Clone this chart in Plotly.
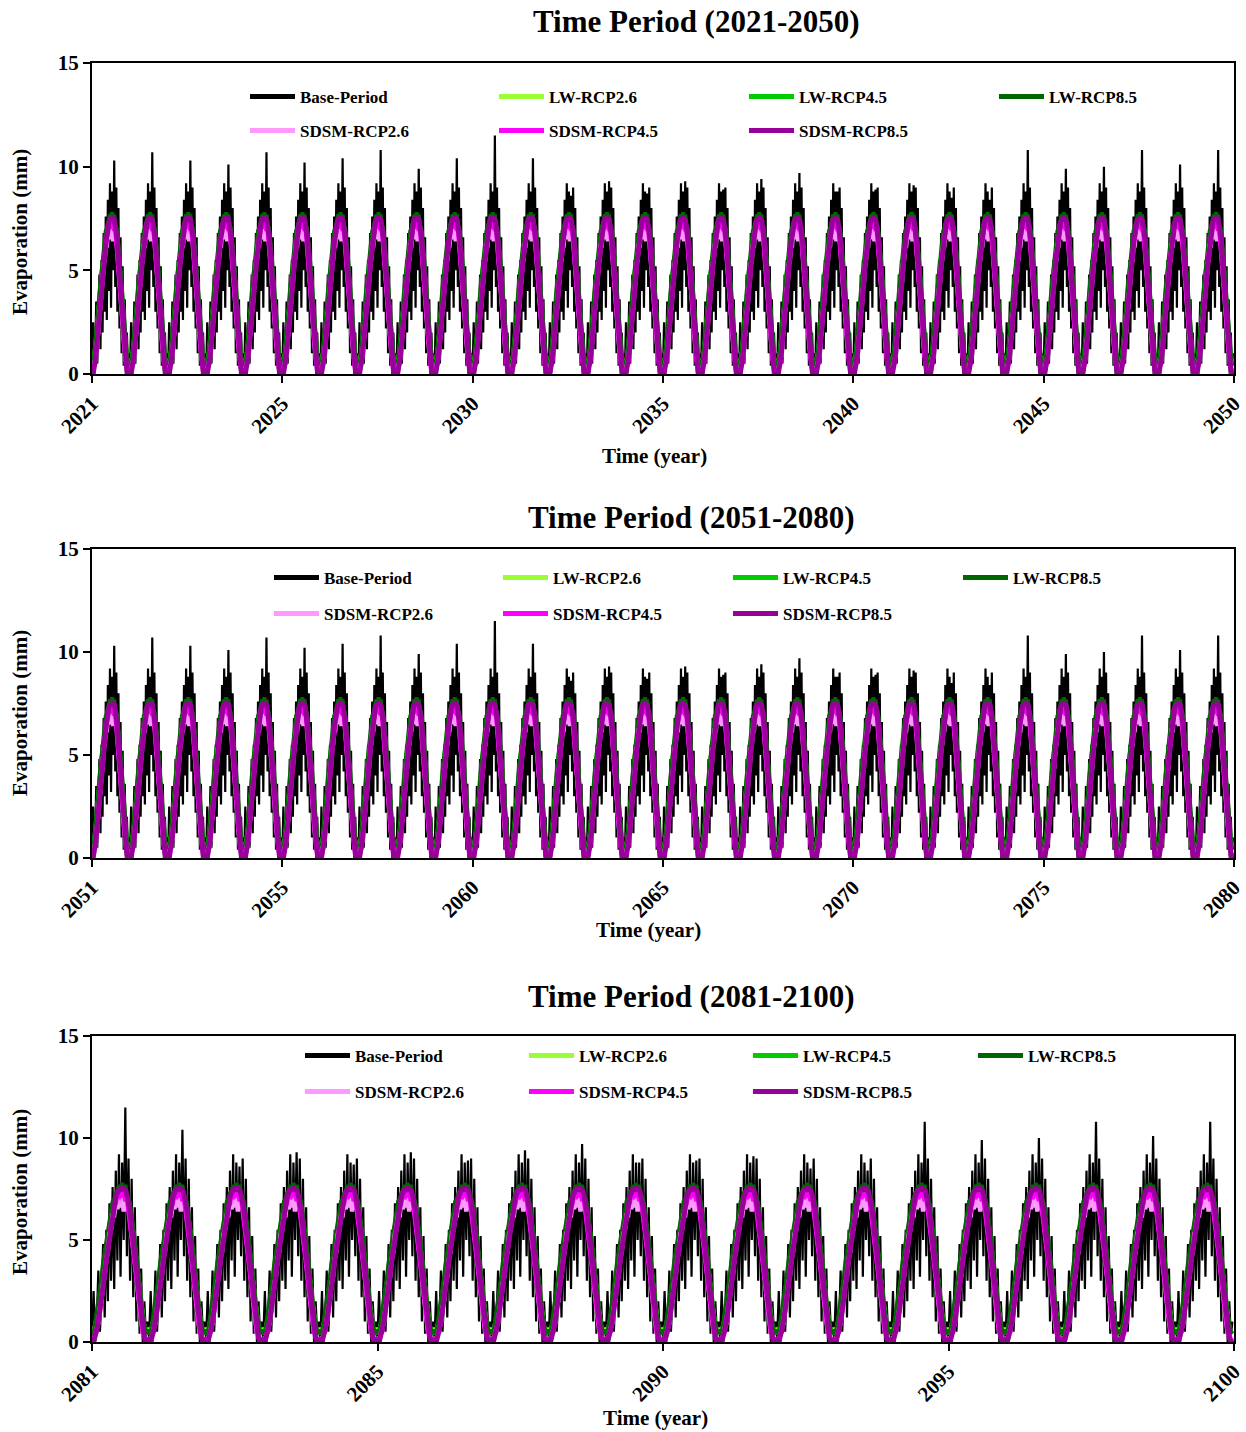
import numpy as np
import plotly.graph_objects as go

# ---------------- data ----------------
PANEL_TITLES = ["Time Period (2021-2050)", "Time Period (2051-2080)", "Time Period (2081-2100)"]
PANEL_YEARS = [30, 30, 20]
BASE_OFFSET = [0, 0, 10]          # panel 3 shows the last 20 years of the base record
X_TICKTEXT = [
    ["2021", "2025", "2030", "2035", "2040", "2045", "2050"],
    ["2051", "2055", "2060", "2065", "2070", "2075", "2080"],
    ["2081", "2085", "2090", "2095", "2100"],
]
Y_TICKS = [0, 5, 10, 15]

SERIES = ["Base-Period", "LW-RCP2.6", "LW-RCP4.5", "LW-RCP8.5",
          "SDSM-RCP2.6", "SDSM-RCP4.5", "SDSM-RCP8.5"]
COLORS = ["#000000", "#99ff33", "#00cc00", "#006600",
          "#ff99ff", "#ff00ff", "#990099"]

STEPS = 36  # samples per year (~10-day)

# typical jagged base-period year (mm); index 21 holds the yearly peak
BASE_TYPICAL = [0.2, 2.5, 0.0, 1.0, 3.5, 0.5, 2.2, 4.8, 1.2, 5.5, 2.0, 6.8,
                3.0, 7.6, 2.6, 8.4, 4.0, 9.2, 3.2, 8.8, 5.0, 10.0, 4.2, 9.0,
                3.0, 8.0, 2.2, 6.6, 1.0, 5.2, 0.4, 3.6, 0.0, 2.0, 0.3, 1.0]
BASE_PEAKS = [10.3, 10.7, 10.3, 10.1, 10.7, 10.2, 10.4, 10.8, 9.9, 10.4,
              11.5, 10.4, 8.6, 9.3, 8.7, 9.3, 8.9, 9.4, 9.7, 8.8,
              8.9, 9.1, 8.5, 8.4, 10.8, 9.9, 10.0, 10.8, 10.1, 10.8]

LW_RCP26 = [0.7, 0.5, 0.9, 1.2, 1.8, 2.3, 3.0, 3.6, 4.2, 4.8, 5.2, 5.8,
            6.2, 6.6, 6.8, 7.1, 7.2, 7.4, 7.3, 7.5, 7.2, 7.4, 7.0, 6.9,
            6.5, 6.0, 5.4, 4.7, 4.0, 3.2, 2.5, 1.8, 1.2, 0.8, 0.5, 0.4]
LW_RCP45 = [0.6, 0.5, 0.8, 1.3, 1.8, 2.4, 3.0, 3.7, 4.2, 4.9, 5.3, 5.9,
            6.3, 6.7, 6.9, 7.2, 7.3, 7.5, 7.4, 7.6, 7.3, 7.5, 7.1, 7.0,
            6.6, 6.1, 5.5, 4.8, 4.1, 3.3, 2.6, 1.9, 1.3, 0.8, 0.5, 0.4]
LW_RCP85 = [0.6, 0.4, 0.9, 1.4, 1.9, 2.6, 3.2, 3.9, 4.4, 5.1, 5.5, 6.1,
            6.5, 6.9, 7.0, 7.3, 7.4, 7.7, 7.5, 7.8, 7.4, 7.7, 7.2, 7.1,
            6.8, 6.3, 5.7, 5.0, 4.3, 3.5, 2.7, 2.0, 1.4, 0.9, 0.5, 0.4]
SDSM_RCP26 = [0.0, 0.2, 0.3, 0.7, 0.9, 1.7, 2.0, 2.9, 3.2, 4.1, 4.4, 5.3,
              5.5, 6.2, 6.2, 6.9, 6.5, 7.4, 6.6, 7.2, 6.4, 7.3, 6.5, 6.6,
              5.8, 5.4, 4.6, 4.0, 3.1, 2.5, 1.7, 1.1, 0.4, 0.3, 0.0, 0.2]
SDSM_RCP45 = [0.2, 0.1, 0.4, 0.5, 1.2, 1.5, 2.3, 2.7, 3.5, 3.9, 4.7, 5.0,
              5.8, 6.0, 6.6, 6.8, 7.3, 7.0, 7.5, 7.1, 7.4, 6.9, 7.1, 6.4,
              6.0, 5.5, 4.7, 4.1, 3.2, 2.6, 1.7, 1.2, 0.5, 0.3, 0.1, 0.0]
SDSM_RCP85 = [0.1, 0.0, 0.3, 0.6, 1.0, 1.6, 2.1, 2.8, 3.3, 4.0, 4.5, 5.2,
              5.7, 6.3, 6.8, 7.1, 7.3, 7.5, 7.4, 7.6, 7.4, 7.5, 7.2, 6.9,
              6.4, 5.6, 4.9, 4.0, 3.4, 2.5, 1.9, 1.1, 0.6, 0.2, 0.0, 0.1]
MODEL_PROFILES = [LW_RCP26, LW_RCP45, LW_RCP85, SDSM_RCP26, SDSM_RCP45, SDSM_RCP85]

# ---------------- layout geometry ----------------
W, H = 1246, 1432
ML, MR = 92, 12
PW = W - ML - MR
PLOT_TOP = [63, 549, 1036]
PLOT_BOT = [374, 858, 1342]
TITLE_Y = [21, 517, 996]
TITLE_X = [696, 691, 691]
XTITLE_Y = [456, 930, 1418]
XTITLE_X = [654, 648, 655]
YTITLE_Y = [232, 713, 1192]
LEG_TEXT_X = [[300, 549, 799, 1049], [324, 553, 783, 1013], [355, 579, 803, 1028]]
LEG_ROW_Y = [[97, 131], [578, 614], [1056, 1092]]
LINE_W = [2.2, 4.0, 4.0, 4.0, 4.5, 4.5, 5.0]

FONT = "Liberation Serif"


def px_x(p):
    return (p - ML) / PW


def px_y(p):
    return 1 - p / H


fig = go.Figure()
layout_extra = {}
annotations = []
leg_count = 0

for k in range(3):
    ny = PANEL_YEARS[k]
    x = np.arange(ny * STEPS) / STEPS
    xa = "x" if k == 0 else f"x{k+1}"
    ya = "y" if k == 0 else f"y{k+1}"

    base_vals = np.tile(np.array(BASE_TYPICAL, dtype=float), ny)
    base_vals[21::STEPS] = BASE_PEAKS[BASE_OFFSET[k]:BASE_OFFSET[k] + ny]
    all_vals = [base_vals] + [np.tile(np.array(p, dtype=float), ny) for p in MODEL_PROFILES]

    for s, name in enumerate(SERIES):
        leg_count += 1
        lname = "legend" if leg_count == 1 else f"legend{leg_count}"
        row = 0 if s < 4 else 1
        col = s if s < 4 else s - 4
        fig.add_trace(go.Scatter(
            x=x, y=all_vals[s], mode="lines", name=name,
            line=dict(color=COLORS[s], width=LINE_W[s]),
            xaxis=xa, yaxis=ya, legend=lname, showlegend=True,
            hoverinfo="skip",
        ))
        layout_extra[lname] = dict(
            x=px_x(LEG_TEXT_X[k][col] - 55), y=px_y(LEG_ROW_Y[k][row]),
            xanchor="left", yanchor="middle", orientation="h",
            bgcolor="rgba(0,0,0,0)", borderwidth=0,
            font=dict(family=FONT, size=17, color="black", weight="bold"),
            itemwidth=45, tracegroupgap=0, itemsizing="constant",
        )

    dom_y = [px_y(PLOT_BOT[k]), px_y(PLOT_TOP[k])]
    nt = len(X_TICKTEXT[k])
    layout_extra["xaxis" if k == 0 else f"xaxis{k+1}"] = dict(
        domain=[0, 1], anchor=ya, range=[0, ny],
        tickmode="array", tickvals=list(np.linspace(0, ny, nt)), ticktext=X_TICKTEXT[k],
        tickangle=-45, ticks="outside", ticklen=7, tickwidth=2, tickcolor="black",
        showline=True, linecolor="black", linewidth=2, mirror=True,
        showgrid=False, zeroline=False, automargin=False,
        tickfont=dict(family=FONT, size=21, color="black", weight="bold"),
    )
    layout_extra["yaxis" if k == 0 else f"yaxis{k+1}"] = dict(
        domain=dom_y, anchor=xa, range=[0, 15],
        tickmode="array", tickvals=Y_TICKS,
        ticks="outside", ticklen=7, tickwidth=2, tickcolor="black",
        showline=True, linecolor="black", linewidth=2, mirror=True,
        showgrid=False, zeroline=False, automargin=False,
        tickfont=dict(family=FONT, size=21, color="black", weight="bold"),
    )

    annotations.append(dict(
        text=PANEL_TITLES[k], x=px_x(TITLE_X[k]), y=px_y(TITLE_Y[k]),
        xref="paper", yref="paper", showarrow=False, xanchor="center", yanchor="middle",
        font=dict(family=FONT, size=31, color="black", weight="bold"),
    ))
    annotations.append(dict(
        text="Time (year)", x=px_x(XTITLE_X[k]), y=px_y(XTITLE_Y[k]),
        xref="paper", yref="paper", showarrow=False, xanchor="center", yanchor="middle",
        font=dict(family=FONT, size=21, color="black", weight="bold"),
    ))
    annotations.append(dict(
        text="Evaporation (mm)", x=px_x(20), y=px_y(YTITLE_Y[k]), textangle=-90,
        xref="paper", yref="paper", showarrow=False, xanchor="center", yanchor="middle",
        font=dict(family=FONT, size=21, color="black", weight="bold"),
    ))

fig.update_layout(
    width=W, height=H,
    margin=dict(l=ML, r=MR, t=0, b=0, autoexpand=False),
    paper_bgcolor="white", plot_bgcolor="white",
    annotations=annotations,
    **layout_extra,
)

fig.write_html(
    "out.html",
    config={"displayModeBar": False},
    post_script="document.body.style.margin='0px';document.body.style.overflow='hidden';",
)
